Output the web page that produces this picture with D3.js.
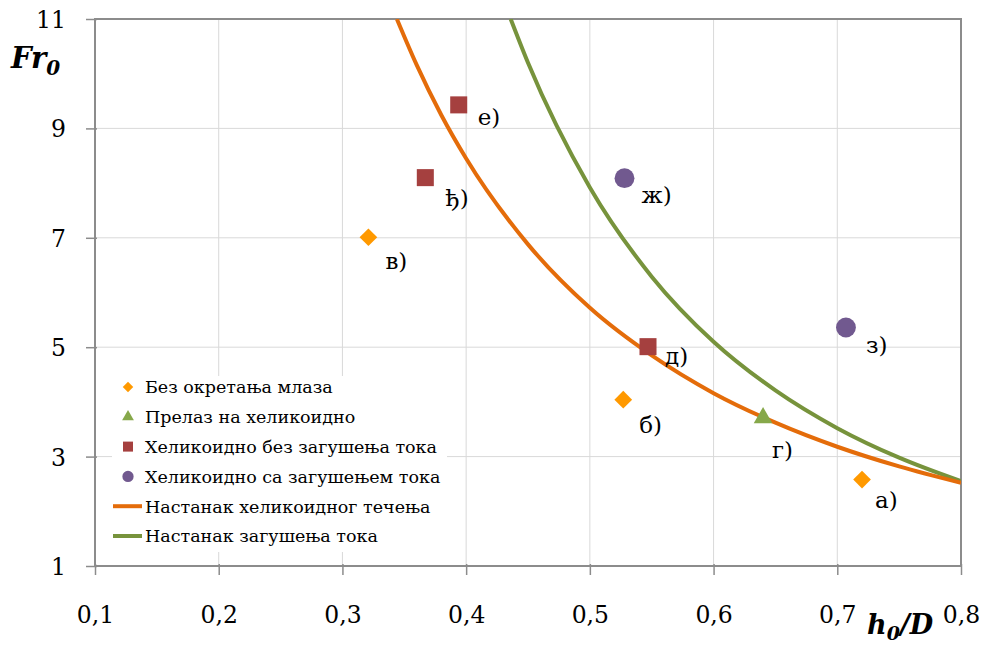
<!DOCTYPE html>
<html><head><meta charset="utf-8">
<script src="https://cdn.jsdelivr.net/npm/d3@7"></script>
<style>
body{margin:0;background:#fff;}
text{font-family:"DejaVu Serif","Liberation Serif",serif;fill:#000;}
</style></head>
<body><svg id="c" width="982" height="646"></svg>
<script>
// ---- data ----
const xTicks = [0.1,0.2,0.3,0.4,0.5,0.6,0.7,0.8];
const yTicks = [1,3,5,7,9,11];
const seriesNames = ["Без окретања млаза","Прелаз на хеликоидно","Хеликоидно без загушења тока","Хеликоидно са загушењем тока","Настанак хеликоидног течења","Настанак загушења тока"];
const bezOkretanja = [{x:0.72,y:2.58,label:"а)"},{x:0.527,y:4.04,label:"б)"},{x:0.321,y:7.01,label:"в)"}];
const prelaz = [{x:0.640,y:3.71,label:"г)"}];
const bezZagusenja = [{x:0.547,y:5.01,label:"д)"},{x:0.367,y:8.10,label:"ђ)"},{x:0.394,y:9.43,label:"е)"}];
const saZagusenjem = [{x:0.528,y:8.09,label:"ж)"},{x:0.707,y:5.36,label:"з)"}];
const curveHelX = [0.344,0.36,0.38,0.40,0.45,0.50,0.55,0.60,0.65,0.70,0.75,0.80];
const curveHelY = [11.0,10.16,9.24,8.45,6.88,5.72,4.85,4.16,3.62,3.18,2.82,2.52];
const curveZagX = [0.436,0.45,0.50,0.55,0.60,0.65,0.70,0.75,0.80];
const curveZagY = [11.0,10.2,7.92,6.29,5.10,4.21,3.52,2.98,2.55];

// ---- layout ----
const svg = d3.select("#c");
const L=95,R=961,T=19,B=566;
const x = d3.scaleLinear().domain([0.1,0.8]).range([L,R]);
const y = d3.scaleLinear().domain([1,11]).range([B,T]);
const fmt = d=>String(d).replace(".",",");
const colors = {diamond:"#FF9900",tri:"#86A84A",sq:"#A5403F",circ:"#71598F",lineH:"#E46C0A",lineZ:"#77933C"};
const grid="#d9d9d9", axisC="#8c8c8c";
const FONT='"DejaVu Serif","Liberation Serif",serif';

// gridlines
svg.append("g").selectAll("line.v").data(xTicks.slice(1,-1)).join("line")
  .attr("x1",d=>x(d)).attr("x2",d=>x(d)).attr("y1",T).attr("y2",B)
  .attr("stroke",grid).attr("stroke-width",1);
svg.append("g").selectAll("line.h").data(yTicks.slice(1,-1)).join("line")
  .attr("y1",d=>y(d)).attr("y2",d=>y(d)).attr("x1",L).attr("x2",R)
  .attr("stroke",grid).attr("stroke-width",1);

// border
svg.append("rect").attr("x",L).attr("y",T).attr("width",R-L).attr("height",B-T)
  .attr("fill","none").attr("stroke",axisC).attr("stroke-width",2);

// axes
const xAxis = d3.axisBottom(x).tickValues(xTicks).tickFormat(fmt).tickSize(9);
const gx = svg.append("g").attr("transform",`translate(0,${B})`).call(xAxis);
gx.select(".domain").remove();
gx.selectAll(".tick line").attr("stroke",axisC).attr("stroke-width",1.5).attr("y1",-2);
gx.selectAll(".tick text").attr("font-size",23.5).attr("font-family",FONT).attr("fill","#000").attr("y",57).attr("dy",0);
const yAxis = d3.axisLeft(y).tickValues(yTicks).tickFormat(fmt).tickSize(9).tickPadding(20);
const gy = svg.append("g").attr("transform",`translate(${L},0)`).call(yAxis);
gy.select(".domain").remove();
gy.selectAll(".tick line").attr("stroke",axisC).attr("stroke-width",1.5).attr("x1",2);
gy.selectAll(".tick text").attr("font-size",23.5).attr("font-family",FONT).attr("fill","#000").attr("dy","0.36em");

// curves
svg.append("clipPath").attr("id","pc").append("rect").attr("x",L).attr("y",T).attr("width",R-L).attr("height",B-T);
const line = d3.line().x(d=>x(d[0])).y(d=>y(d[1])).curve(d3.curveMonotoneX);
svg.append("path").datum(curveZagX.map((v,i)=>[v,curveZagY[i]])).attr("d",line)
  .attr("fill","none").attr("stroke",colors.lineZ).attr("stroke-width",4).attr("clip-path","url(#pc)");
svg.append("path").datum(curveHelX.map((v,i)=>[v,curveHelY[i]])).attr("d",line)
  .attr("fill","none").attr("stroke",colors.lineH).attr("stroke-width",4).attr("clip-path","url(#pc)");

// markers
const sym = {diamond:d3.symbol().type(d3.symbolDiamond2).size(200),
  tri:d3.symbol().type(d3.symbolTriangle).size(150),
  sq:d3.symbol().type(d3.symbolSquare).size(290),
  circ:d3.symbol().type(d3.symbolCircle).size(310)};
function pts(data,kind){
  svg.append("g").selectAll("path").data(data).join("path")
    .attr("d",sym[kind]).attr("transform",d=>`translate(${x(d.x)},${y(d.y)})`).attr("fill",colors[kind]);
}
pts(bezOkretanja,"diamond"); pts(prelaz,"tri"); pts(bezZagusenja,"sq"); pts(saZagusenjem,"circ");

// data labels (nudges like manually placed labels)
const nudge = {"а)":[13,28],"б)":[16,33],"в)":[17,32],"г)":[9,40],"д)":[17,17],"ђ)":[20,28],"е)":[19,20],"ж)":[17,25],"з)":[20,25]};
const allPts = [...bezOkretanja,...prelaz,...bezZagusenja,...saZagusenjem];
svg.append("g").selectAll("text").data(allPts).join("text")
  .attr("x",d=>x(d.x)+nudge[d.label][0]).attr("y",d=>y(d.y)+nudge[d.label][1])
  .attr("font-size",23).text(d=>d.label);

// legend
const lg = svg.append("g");
lg.append("rect").attr("x",112).attr("y",376).attr("width",335).attr("height",176).attr("fill","#fff");
const kinds = ["diamond","tri","sq","circ","lineH","lineZ"];
const rowY = i=>387+i*29.8;
kinds.forEach((k,i)=>{
  const yy = rowY(i);
  if(k.startsWith("line")){
    lg.append("line").attr("x1",113).attr("x2",142).attr("y1",yy).attr("y2",yy).attr("stroke",colors[k]).attr("stroke-width",4);
  } else {
    const s = k==="diamond"?d3.symbol().type(d3.symbolDiamond2).size(70):
              k==="tri"?d3.symbol().type(d3.symbolTriangle).size(60):
              k==="sq"?d3.symbol().type(d3.symbolSquare).size(100):d3.symbol().type(d3.symbolCircle).size(100);
    lg.append("path").attr("d",s).attr("transform",`translate(128,${yy})`).attr("fill",colors[k]);
  }
  lg.append("text").attr("x",145).attr("y",yy).attr("dy","0.36em").attr("font-size",17.5).text(seriesNames[i]);
});

// axis titles
const ty = svg.append("text").attr("x",11).attr("y",68).attr("font-size",29).attr("font-weight","bold").attr("font-style","italic");
ty.append("tspan").text("Fr");
ty.append("tspan").attr("font-size",20).attr("dy",7).text("0");
const tx = svg.append("text").attr("x",867).attr("y",634).attr("font-size",27).attr("font-weight","bold").attr("font-style","italic");
tx.append("tspan").text("h");
tx.append("tspan").attr("font-size",19).attr("dy",6).text("0");
tx.append("tspan").attr("dy",-6).text("/D");
</script></body></html>
